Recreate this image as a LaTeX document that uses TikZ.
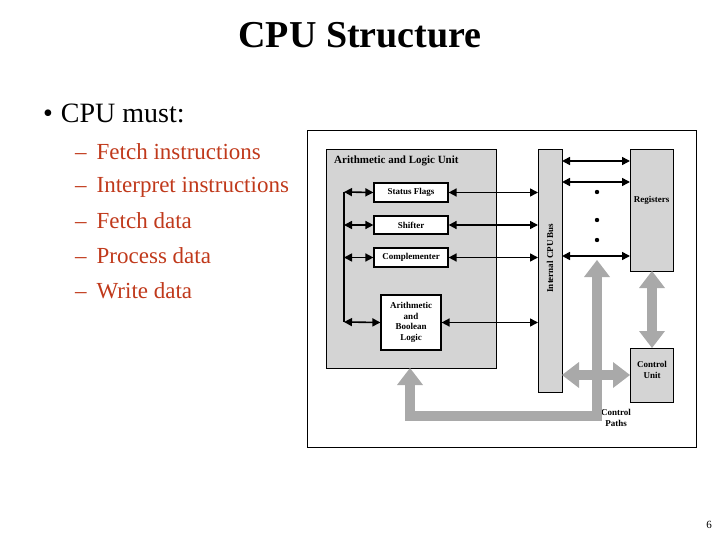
\documentclass[tikz,border=0pt]{standalone}
\usepackage{fontspec}
\setmainfont{Liberation Serif}
\usetikzlibrary{arrows.meta}
\definecolor{txtred}{HTML}{C0391B}
\definecolor{boxgray}{HTML}{D4D4D4}
\definecolor{pathgray}{HTML}{A9A9A9}
\begin{document}
\begin{tikzpicture}[x=1pt,y=-1pt,
  gbox/.style={draw,line width=1.2pt,fill=boxgray},
  wbox/.style={draw,line width=1.2pt,fill=white,font=\fontsize{9}{10.5}\selectfont\bfseries,align=center,inner sep=0pt},
  lbl/.style={font=\fontsize{9}{10.5}\selectfont\bfseries,align=center},
  da/.style={line width=1.6pt,{Triangle[length=8pt,width=8pt]}-{Triangle[length=8pt,width=8pt]}},
  ga/.style={line width=10pt,draw=pathgray},
  item/.style={anchor=west,font=\fontsize{23}{26}\selectfont,text=txtred,inner sep=0pt}]
\useasboundingbox (0,0) rectangle (720,540);
\node[font=\fontsize{38}{42}\selectfont\bfseries] (title) at (360,35) {CPU Structure};
\node[anchor=west,font=\fontsize{28}{32}\selectfont,inner sep=0pt] (b) at (43,113) {•\hspace{8pt}CPU must:};
\foreach \t/\y [count=\i] in {Fetch instructions/152,Interpret instructions/187,Fetch data/221,Process data/256,Write data/291}{
  \node[item] (it\i) at (75,\y) {–\hspace{10pt}\t};}
\node[font=\fontsize{11}{13}\selectfont] (pg) at (709,525) {6};
% frame
\draw[line width=1pt] (307,131) rectangle (696,447);
\node[gbox,minimum width=170,minimum height=219,anchor=north west] (alu) at (326,149) {};
\node[lbl,anchor=west,font=\fontsize{11}{12}\selectfont\bfseries,inner sep=0pt] (alut) at (334,161) {Arithmetic and Logic Unit};
\node[wbox,minimum width=74,minimum height=19] (sf) at (411,192.5) {Status Flags};
\node[wbox,minimum width=74,minimum height=18] (sh) at (411,225) {Shifter};
\node[wbox,minimum width=74,minimum height=19] (cm) at (411,257.5) {Complementer};
\node[wbox,minimum width=60,minimum height=55] (abl) at (411,322.5) {Arithmetic\\and\\Boolean\\Logic};
\node[gbox,minimum width=24,minimum height=243,anchor=north west] (bus) at (538,149) {};
\node[lbl,rotate=90] (bust) at (550,258) {Internal CPU Bus};
\node[gbox,minimum width=43,minimum height=122,anchor=north west] (reg) at (630,149) {};
\node[lbl] (regt) at (651.5,200) {Registers};
\node[gbox,minimum width=43,minimum height=54,anchor=north west] (cu) at (630,348) {};
\node[lbl] (cut) at (652,370) {Control\\Unit};
\node[lbl] (cp) at (616,418) {Control\\Paths};
% left bus
\coordinate (lt) at (344,192);
\coordinate (lb) at (344,322);
\draw[line width=1.4pt] (lt) -- (lb);
\draw[da] (lt) -- (sf.west);
\draw[da] (344,225) -- (sh.west);
\draw[da] (344,257.5) -- (cm.west);
\draw[da] (lb) -- (abl.west);
\draw[da] (sf.east) -- (sf.east -| bus.west);
\draw[da] (sh.east) -- (sh.east -| bus.west);
\draw[da] (cm.east) -- (cm.east -| bus.west);
\draw[da] (abl.east) -- (abl.east -| bus.west);
\draw[da] (562,161) -- (630,161);
\draw[da] (562,182) -- (630,182);
\draw[da] (562,256) -- (630,256);
\foreach \y in {192,220,240} \fill (597,\y) circle (2.2);
% gray paths
\draw[ga] (597,275) -- (597,416) -- (410,416) -- (410,383);
\fill[pathgray] (410,368) -- (397,385) -- (423,385) -- cycle;
\fill[pathgray] (597,260) -- (584,277) -- (610,277) -- cycle;
\draw[ga] (578,375) -- (614,375);
\fill[pathgray] (562,375) -- (579,362) -- (579,388) -- cycle;
\fill[pathgray] (630,375) -- (613,362) -- (613,388) -- cycle;
\draw[ga] (652,287) -- (652,332);
\fill[pathgray] (652,271) -- (639,288) -- (665,288) -- cycle;
\fill[pathgray] (652,348) -- (639,331) -- (665,331) -- cycle;
\end{tikzpicture}
\end{document}
